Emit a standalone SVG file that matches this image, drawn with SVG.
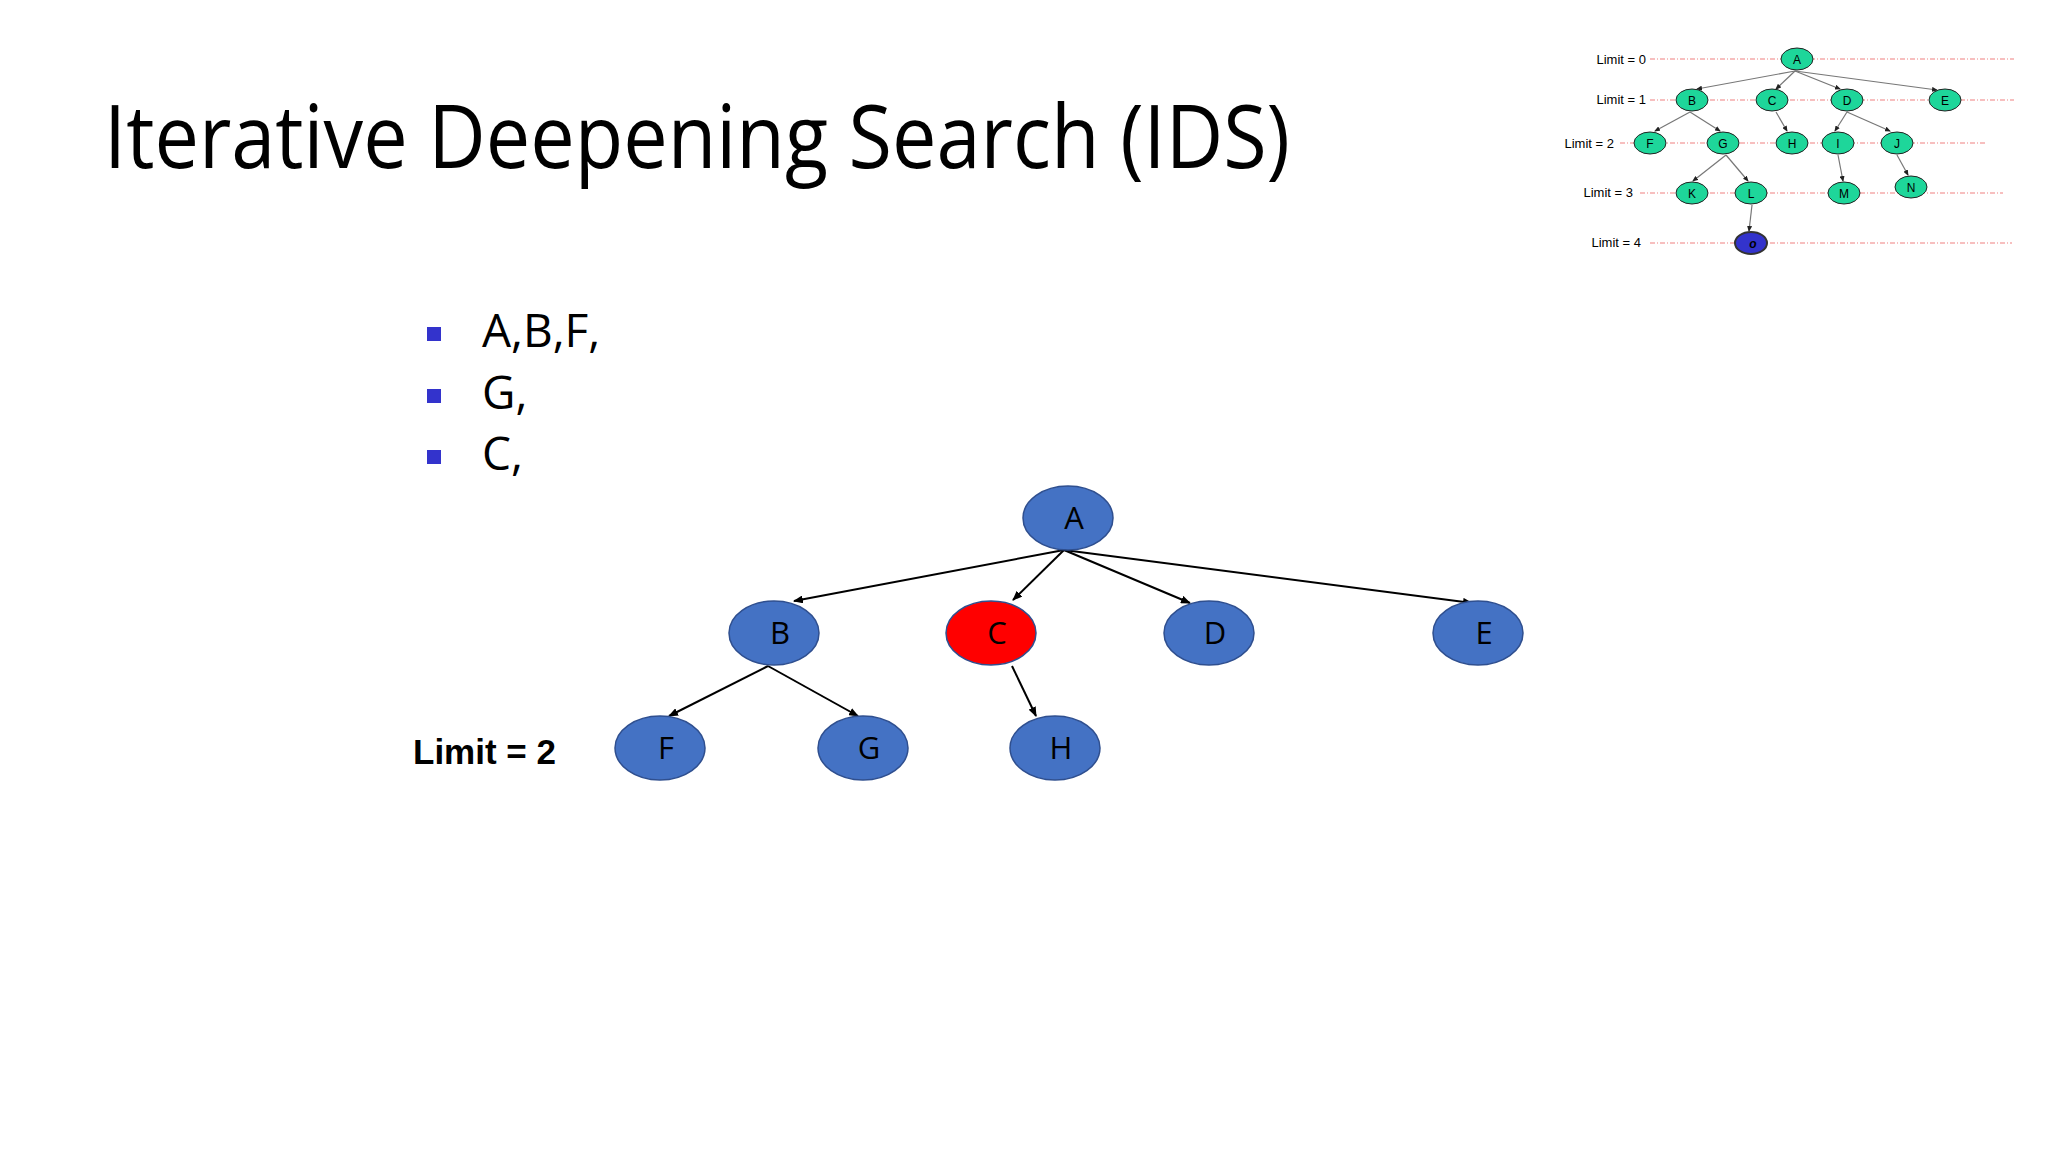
<svg xmlns="http://www.w3.org/2000/svg" width="2048" height="1152" viewBox="0 0 2048 1152">
<defs>
<marker id="ar" markerWidth="10" markerHeight="8" refX="9" refY="4" orient="auto" markerUnits="userSpaceOnUse"><path d="M0,0 L10,4 L0,8 z" fill="#000"/></marker>
<marker id="ar2" markerWidth="6" markerHeight="5" refX="5" refY="2.5" orient="auto" markerUnits="userSpaceOnUse"><path d="M0,0 L6,2.5 L0,5 z" fill="#222"/></marker>
<style>
.n{fill:#4472C4;stroke:#2F4F8F;stroke-width:1.5}
.t{font-family:"Open Sans","Liberation Sans",sans-serif;font-size:31px;fill:#000;text-anchor:middle}
.e{stroke:#000;stroke-width:2;fill:none;marker-end:url(#ar)}
.m{fill:#1ED69A;stroke:#222;stroke-width:1}
.mt{font-family:"Liberation Sans",Arial,sans-serif;font-size:12px;text-anchor:middle}
.ml{font-family:"Liberation Sans",Arial,sans-serif;font-size:13px;text-anchor:end}
.me{stroke:#777;stroke-width:1.2;fill:none;marker-end:url(#ar2)}
.dl{stroke:#F08080;stroke-width:1.2;stroke-dasharray:5 2 1 2}
.b{font-family:"Open Sans","Liberation Sans",sans-serif;font-size:46px}
</style>
</defs>
<rect width="2048" height="1152" fill="#fff"/>
<text x="104" y="168" font-family="'Open Sans','Liberation Sans',sans-serif" font-size="88" textLength="1186" lengthAdjust="spacingAndGlyphs">Iterative Deepening Search (IDS)</text>
<g id="bullets">
<rect x="427" y="327" width="14" height="14" fill="#3333CC"/>
<rect x="427" y="389" width="14" height="14" fill="#3333CC"/>
<rect x="427" y="450" width="14" height="14" fill="#3333CC"/>
<text class="b" x="482" y="347">A,B,F,</text>
<text class="b" x="482" y="409">G,</text>
<text class="b" x="482" y="470">C,</text>
</g>
<text x="413" y="764" font-family="'Liberation Sans',Arial,sans-serif" font-size="35" font-weight="bold">Limit = 2</text>
<g id="connectors">
<line class="e" x1="1064" y1="550" x2="794" y2="601"/>
<line class="e" x1="1064" y1="550" x2="1013" y2="600"/>
<line class="e" x1="1064" y1="550" x2="1190" y2="603"/>
<line class="e" x1="1064" y1="550" x2="1472" y2="603"/>
<line class="e" x1="768" y1="666" x2="669" y2="716"/>
<line class="e" x1="768" y1="666" x2="858" y2="716"/>
<line class="e" x1="1012" y1="666" x2="1036" y2="716"/>
</g>
<g id="A"><ellipse class="n" cx="1068" cy="518" rx="45" ry="32"/><text class="t" x="1074" y="529">A</text></g>
<g id="B"><ellipse class="n" cx="774" cy="633" rx="45" ry="32"/><text class="t" x="780" y="644">B</text></g>
<g id="C"><ellipse cx="991" cy="633" rx="45" ry="32" fill="#FF0000" stroke="#2F4F8F" stroke-width="1.5"/><text class="t" x="997" y="644">C</text></g>
<g id="D"><ellipse class="n" cx="1209" cy="633" rx="45" ry="32"/><text class="t" x="1215" y="644">D</text></g>
<g id="E"><ellipse class="n" cx="1478" cy="633" rx="45" ry="32"/><text class="t" x="1484" y="644">E</text></g>
<g id="F"><ellipse class="n" cx="660" cy="748" rx="45" ry="32"/><text class="t" x="666" y="759">F</text></g>
<g id="G"><ellipse class="n" cx="863" cy="748" rx="45" ry="32"/><text class="t" x="869" y="759">G</text></g>
<g id="H"><ellipse class="n" cx="1055" cy="748" rx="45" ry="32"/><text class="t" x="1061" y="759">H</text></g>
<g id="minitree">
<line class="dl" x1="1650" y1="59" x2="2014" y2="59"/>
<line class="dl" x1="1650" y1="100" x2="2014" y2="100"/>
<line class="dl" x1="1620" y1="143" x2="1985" y2="143"/>
<line class="dl" x1="1640" y1="193" x2="2003" y2="193"/>
<line class="dl" x1="1650" y1="243" x2="2012" y2="243"/>
<text class="ml" x="1646" y="64">Limit = 0</text>
<text class="ml" x="1646" y="104">Limit = 1</text>
<text class="ml" x="1614" y="148">Limit = 2</text>
<text class="ml" x="1633" y="197">Limit = 3</text>
<text class="ml" x="1641" y="247">Limit = 4</text>
<line class="me" x1="1795" y1="71" x2="1697" y2="89"/>
<line class="me" x1="1795" y1="71" x2="1776" y2="89"/>
<line class="me" x1="1795" y1="71" x2="1840" y2="89"/>
<line class="me" x1="1795" y1="71" x2="1937" y2="90"/>
<line class="me" x1="1690" y1="112" x2="1655" y2="131"/>
<line class="me" x1="1690" y1="112" x2="1720" y2="131"/>
<line class="me" x1="1776" y1="112" x2="1787" y2="131"/>
<line class="me" x1="1847" y1="112" x2="1835" y2="131"/>
<line class="me" x1="1847" y1="112" x2="1890" y2="131"/>
<line class="me" x1="1726" y1="155" x2="1693" y2="181"/>
<line class="me" x1="1726" y1="155" x2="1748" y2="181"/>
<line class="me" x1="1838" y1="155" x2="1843" y2="181"/>
<line class="me" x1="1897" y1="155" x2="1908" y2="175"/>
<line class="me" x1="1752" y1="205" x2="1749" y2="231"/>
<g><ellipse class="m" cx="1797" cy="59" rx="16" ry="11"/><text class="mt" x="1797" y="64">A</text></g>
<g><ellipse class="m" cx="1692" cy="100" rx="16" ry="11"/><text class="mt" x="1692" y="105">B</text></g>
<g><ellipse class="m" cx="1772" cy="100" rx="16" ry="11"/><text class="mt" x="1772" y="105">C</text></g>
<g><ellipse class="m" cx="1847" cy="100" rx="16" ry="11"/><text class="mt" x="1847" y="105">D</text></g>
<g><ellipse class="m" cx="1945" cy="100" rx="16" ry="11"/><text class="mt" x="1945" y="105">E</text></g>
<g><ellipse class="m" cx="1650" cy="143" rx="16" ry="11"/><text class="mt" x="1650" y="148">F</text></g>
<g><ellipse class="m" cx="1723" cy="143" rx="16" ry="11"/><text class="mt" x="1723" y="148">G</text></g>
<g><ellipse class="m" cx="1792" cy="143" rx="16" ry="11"/><text class="mt" x="1792" y="148">H</text></g>
<g><ellipse class="m" cx="1838" cy="143" rx="16" ry="11"/><text class="mt" x="1838" y="148">I</text></g>
<g><ellipse class="m" cx="1897" cy="143" rx="16" ry="11"/><text class="mt" x="1897" y="148">J</text></g>
<g><ellipse class="m" cx="1692" cy="193" rx="16" ry="11"/><text class="mt" x="1692" y="198">K</text></g>
<g><ellipse class="m" cx="1751" cy="193" rx="16" ry="11"/><text class="mt" x="1751" y="198">L</text></g>
<g><ellipse class="m" cx="1844" cy="193" rx="16" ry="11"/><text class="mt" x="1844" y="198">M</text></g>
<g><ellipse class="m" cx="1911" cy="187" rx="16" ry="11"/><text class="mt" x="1911" y="192">N</text></g>
<g><ellipse cx="1751" cy="243" rx="16" ry="11" fill="#3333CC" stroke="#333" stroke-width="2"/><text class="mt" x="1753" y="248" font-weight="bold" font-style="italic">o</text></g>
</g>
</svg>
